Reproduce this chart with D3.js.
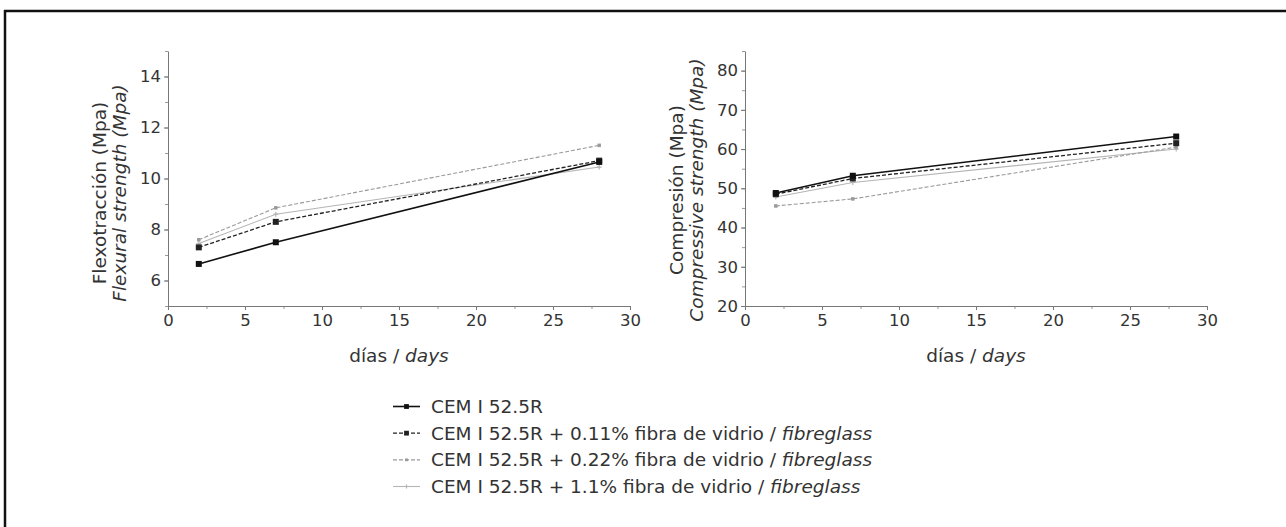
<!DOCTYPE html>
<html><head><meta charset="utf-8">
<script src="https://cdn.jsdelivr.net/npm/d3@7"></script>
<style>
html,body{margin:0;padding:0;background:#fff;}
svg text{font-family:"DejaVu Sans",Verdana,sans-serif;fill:#333;}
</style></head><body>
<svg id="c" width="1286" height="527"></svg>
<script>
const days = [2, 7, 28];
const seriesNames = [
  ["CEM I 52.5R", ""],
  ["CEM I 52.5R + 0.11% fibra de vidrio / ", "fibreglass"],
  ["CEM I 52.5R + 0.22% fibra de vidrio / ", "fibreglass"],
  ["CEM I 52.5R + 1.1% fibra de vidrio / ", "fibreglass"]
];
const flexural = [
  [6.65, 7.5, 10.65],
  [7.3, 8.3, 10.7],
  [7.6, 8.85, 11.3],
  [7.45, 8.6, 10.45]
];
const compressive = [
  [48.8, 53.2, 63.2],
  [48.5, 52.5, 61.5],
  [45.5, 47.3, 60.5],
  [47.8, 51.5, 60.0]
];
const xTicks = [0, 5, 10, 15, 20, 25, 30];
const flexTicks = [6, 8, 10, 12, 14];
const compTicks = [20, 30, 40, 50, 60, 70, 80];

const styles = [
  {color:"#111", width:1.6, dash:null, marker:"square", size:6},
  {color:"#222", width:1.3, dash:"4,2", marker:"square", size:6},
  {color:"#9a9a9a", width:1.1, dash:"4,2", marker:"square", size:3.5},
  {color:"#b5b5b5", width:1.1, dash:null, marker:"plus", size:5}
];

const svg = d3.select("#c");
svg.append("line").attr("x1",4).attr("x2",1286).attr("y1",11).attr("y2",11).attr("stroke","#111").attr("stroke-width",2.5);
svg.append("line").attr("x1",5).attr("x2",5).attr("y1",10).attr("y2",527).attr("stroke","#111").attr("stroke-width",2.5);

const FS = 18.5, TFS = 16.5;

function panel(x0, data, ydom, yticks, title1, title2, titleX, titleY) {
  const x = d3.scaleLinear().domain([0,30]).range([x0, x0+462]);
  const y = d3.scaleLinear().domain(ydom).range([306, 51]);
  const g = svg.append("g");
  const xMinor = d3.range(0, 30.01, 2.5);
  const yStep = yticks[1]-yticks[0];
  const yMinor = d3.range(ydom[0], ydom[1]+0.001, yStep/2);
  g.append("g").attr("transform",`translate(0,306)`)
    .call(d3.axisBottom(x).tickValues(xMinor).tickSize(3).tickFormat(""))
    .call(a=>{a.select(".domain").remove();a.selectAll("line").attr("stroke","#999");});
  g.append("g").attr("transform",`translate(${x0},0)`)
    .call(d3.axisLeft(y).tickValues(yMinor).tickSize(3).tickFormat(""))
    .call(a=>{a.select(".domain").remove();a.selectAll("line").attr("stroke","#999");});
  const xa = g.append("g").attr("transform",`translate(0,306)`)
    .call(d3.axisBottom(x).tickValues(xTicks).tickSize(4).tickSizeOuter(0).tickPadding(4));
  const ya = g.append("g").attr("transform",`translate(${x0},0)`)
    .call(d3.axisLeft(y).tickValues(yticks).tickSize(4).tickSizeOuter(0).tickPadding(3));
  [xa,ya].forEach(a=>{
    a.select(".domain").attr("stroke","#777");
    a.selectAll(".tick line").attr("stroke","#777");
    a.selectAll("text").attr("font-size",TFS).style("fill","#333")
      .attr("font-family","DejaVu Sans");
  });
  const t = g.append("text").attr("transform",`translate(${titleX},${titleY}) rotate(-90)`)
    .attr("text-anchor","middle").attr("font-size",FS);
  t.append("tspan").attr("x",0).attr("dy",0).text(title1);
  t.append("tspan").attr("x",0).attr("dy",20).attr("font-style","italic").text(title2);
  const xt = g.append("text").attr("x",(x(0)+x(30))/2).attr("y",362).attr("text-anchor","middle").attr("font-size",FS);
  xt.append("tspan").text("días / ");
  xt.append("tspan").attr("font-style","italic").text("days");
  const line = d3.line().x((d,i)=>x(days[i])).y(d=>y(d));
  [3,2,1,0].forEach(si=>{
    const s = styles[si];
    g.append("path").datum(data[si]).attr("d",line).attr("fill","none")
      .attr("stroke",s.color).attr("stroke-width",s.width).attr("stroke-dasharray",s.dash);
    data[si].forEach((v,i)=>drawMarker(g, x(days[i]), y(v), s));
  });
}
function drawMarker(g, cx, cy, s){
  if(s.marker==="square"){
    g.append("rect").attr("x",cx-s.size/2).attr("y",cy-s.size/2).attr("width",s.size).attr("height",s.size).attr("fill",s.color);
  } else {
    g.append("path").attr("d",`M${cx-s.size/2},${cy}H${cx+s.size/2}M${cx},${cy-s.size/2}V${cy+s.size/2}`)
      .attr("stroke",s.color).attr("stroke-width",1.2);
  }
}

panel(168, flexural, [5,15], flexTicks, "Flexotracción (Mpa)", "Flexural strength (Mpa)", 106, 193);
panel(745, compressive, [20,85], compTicks, "Compresión (Mpa)", "Compressive strength (Mpa)", 683, 190);

const legY = d3.scalePoint().domain(d3.range(4)).range([406.5, 486.5]);
const lg = svg.append("g");
seriesNames.forEach((n,i)=>{
  const s = styles[i], yy = legY(i);
  lg.append("line").attr("x1",393).attr("x2",420).attr("y1",yy).attr("y2",yy)
    .attr("stroke",s.color).attr("stroke-width",s.width).attr("stroke-dasharray",s.dash);
  drawMarker(lg, 406.5, yy, Object.assign({}, s, {size: s.size*0.8}));
  const t = lg.append("text").attr("x",431).attr("y",yy+6.5).attr("font-size",FS);
  t.append("tspan").text(n[0]);
  if(n[1]) t.append("tspan").attr("font-style","italic").text(n[1]);
});
</script>
</body></html>
